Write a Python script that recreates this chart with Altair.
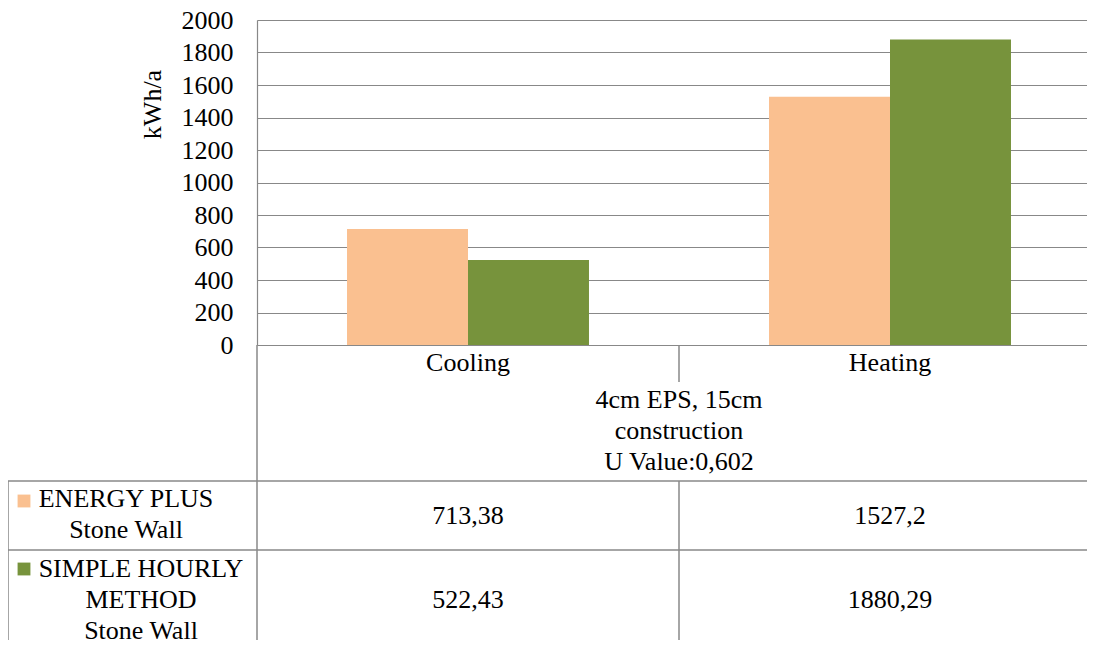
import altair as alt
import pandas as pd

# ---- data ----
categories = ["Cooling", "Heating"]
series = ["ENERGY PLUS Stone Wall", "SIMPLE HOURLY METHOD Stone Wall"]
energy_plus = [713.38, 1527.2]
simple_hourly = [522.43, 1880.29]
colors = ["#FAC090", "#77933C"]
y_ticks = [0, 200, 400, 600, 800, 1000, 1200, 1400, 1600, 1800, 2000]
header_lines = ["4cm EPS, 15cm", "construction", "U Value:0,602"]
row_label_lines = [["ENERGY PLUS", "Stone Wall"], ["SIMPLE HOURLY", "METHOD", "Stone Wall"]]
y_title = "kWh/a"

rows = []
for s, vals in zip(series, [energy_plus, simple_hourly]):
    for c, v in zip(categories, vals):
        rows.append({"cat": c, "series": s, "value": v})
df = pd.DataFrame(rows)

FONT = "Liberation Serif"
FS = 26
GRAY = "#888888"
W = 830
H = 325

xscale = alt.Scale(domain=categories, range=[0, 844], paddingInner=0, paddingOuter=0)
color = alt.Color("series:N", scale=alt.Scale(domain=series, range=colors), legend=None)

bars = alt.Chart(df).mark_bar().encode(
    x=alt.X("cat:N", scale=xscale, title=None,
            axis=alt.Axis(ticks=False, tickSize=0, labelAngle=0, labelPadding=25,
                          labelBaseline="alphabetic", labelFont=FONT, labelFontSize=FS,
                          labelColor="black", domainColor=GRAY, domainWidth=1.2, grid=False)),
    xOffset=alt.XOffset("series:N", scale=alt.Scale(domain=series, paddingOuter=0.744, paddingInner=0)),
    y=alt.Y("value:Q", scale=alt.Scale(domain=[0, 2000], nice=False),
            axis=alt.Axis(values=y_ticks, format="d", grid=True, gridColor=GRAY, gridWidth=1.2,
                          domainColor=GRAY, domainWidth=1.2, ticks=False, tickSize=0,
                          labelPadding=24, labelFont=FONT, labelFontSize=FS, labelColor="black",
                          title=y_title, titleFont=FONT, titleFontSize=FS, titleFontWeight="normal",
                          titleColor="black", titleAngle=270, titleX=-97, titleY=84,
                          titleBaseline="alphabetic", titleAlign="center")),
    color=color,
)

one = alt.Data(values=[{"k": 1}])
LW = 1.5

def vrule(x, y1, y2):
    return alt.Chart(one).mark_rule(color=GRAY, strokeWidth=LW).encode(
        x=alt.value(x), y=alt.value(y1), y2=alt.value(y2))

def hrule(y, x1, x2):
    return alt.Chart(one).mark_rule(color=GRAY, strokeWidth=LW).encode(
        y=alt.value(y), x=alt.value(x1), x2=alt.value(x2))

rules = [
    vrule(0, 325, 650),
    vrule(422, 325, 362),
    vrule(422, 461, 650),
    vrule(-249, 461, 650),
    hrule(461, -249, 850),
    hrule(530, -249, 850),
]

header = alt.Chart(one).mark_text(font=FONT, fontSize=FS, color="black", align="center",
                                  baseline="alphabetic", lineBreak="\n", lineHeight=31).encode(
    x=alt.value(422), y=alt.value(388), text=alt.value("\n".join(header_lines)))

values = alt.Chart(df).transform_calculate(
    label="replace(toString(datum.value), '.', ',')"
).mark_text(font=FONT, fontSize=FS, color="black", align="center", baseline="alphabetic").encode(
    x=alt.X("cat:N", scale=xscale),
    y=alt.Y("series:N", scale=alt.Scale(type="point", domain=series, range=[504, 588], padding=0),
            axis=None),
    text="label:N",
)

label_x = [-131, -116]
label_y = [487, 557]
square_y = [481, 549]
row_layers = []
for i, s in enumerate(series):
    row_layers.append(
        alt.Chart(one).mark_text(font=FONT, fontSize=FS, color="black", align="center",
                                 baseline="alphabetic", lineBreak="\n", lineHeight=31).encode(
            x=alt.value(label_x[i]), y=alt.value(label_y[i]),
            text=alt.value("\n".join(row_label_lines[i])))
    )
    row_layers.append(
        alt.Chart(alt.Data(values=[{"series": s}])).mark_square(size=165, opacity=1).encode(
            x=alt.value(-233), y=alt.value(square_y[i]), color=color)
    )

chart = alt.layer(bars, *rules, header, values, *row_layers).properties(
    width=W, height=H,
    autosize=alt.AutoSizeParams(type="none"),
    padding={"left": 249, "top": 12, "right": 0, "bottom": 295},
).resolve_scale(y="independent").configure_view(stroke=None).configure(background="white")

chart.save("out.html", embed_options={"renderer": "svg", "actions": False})
